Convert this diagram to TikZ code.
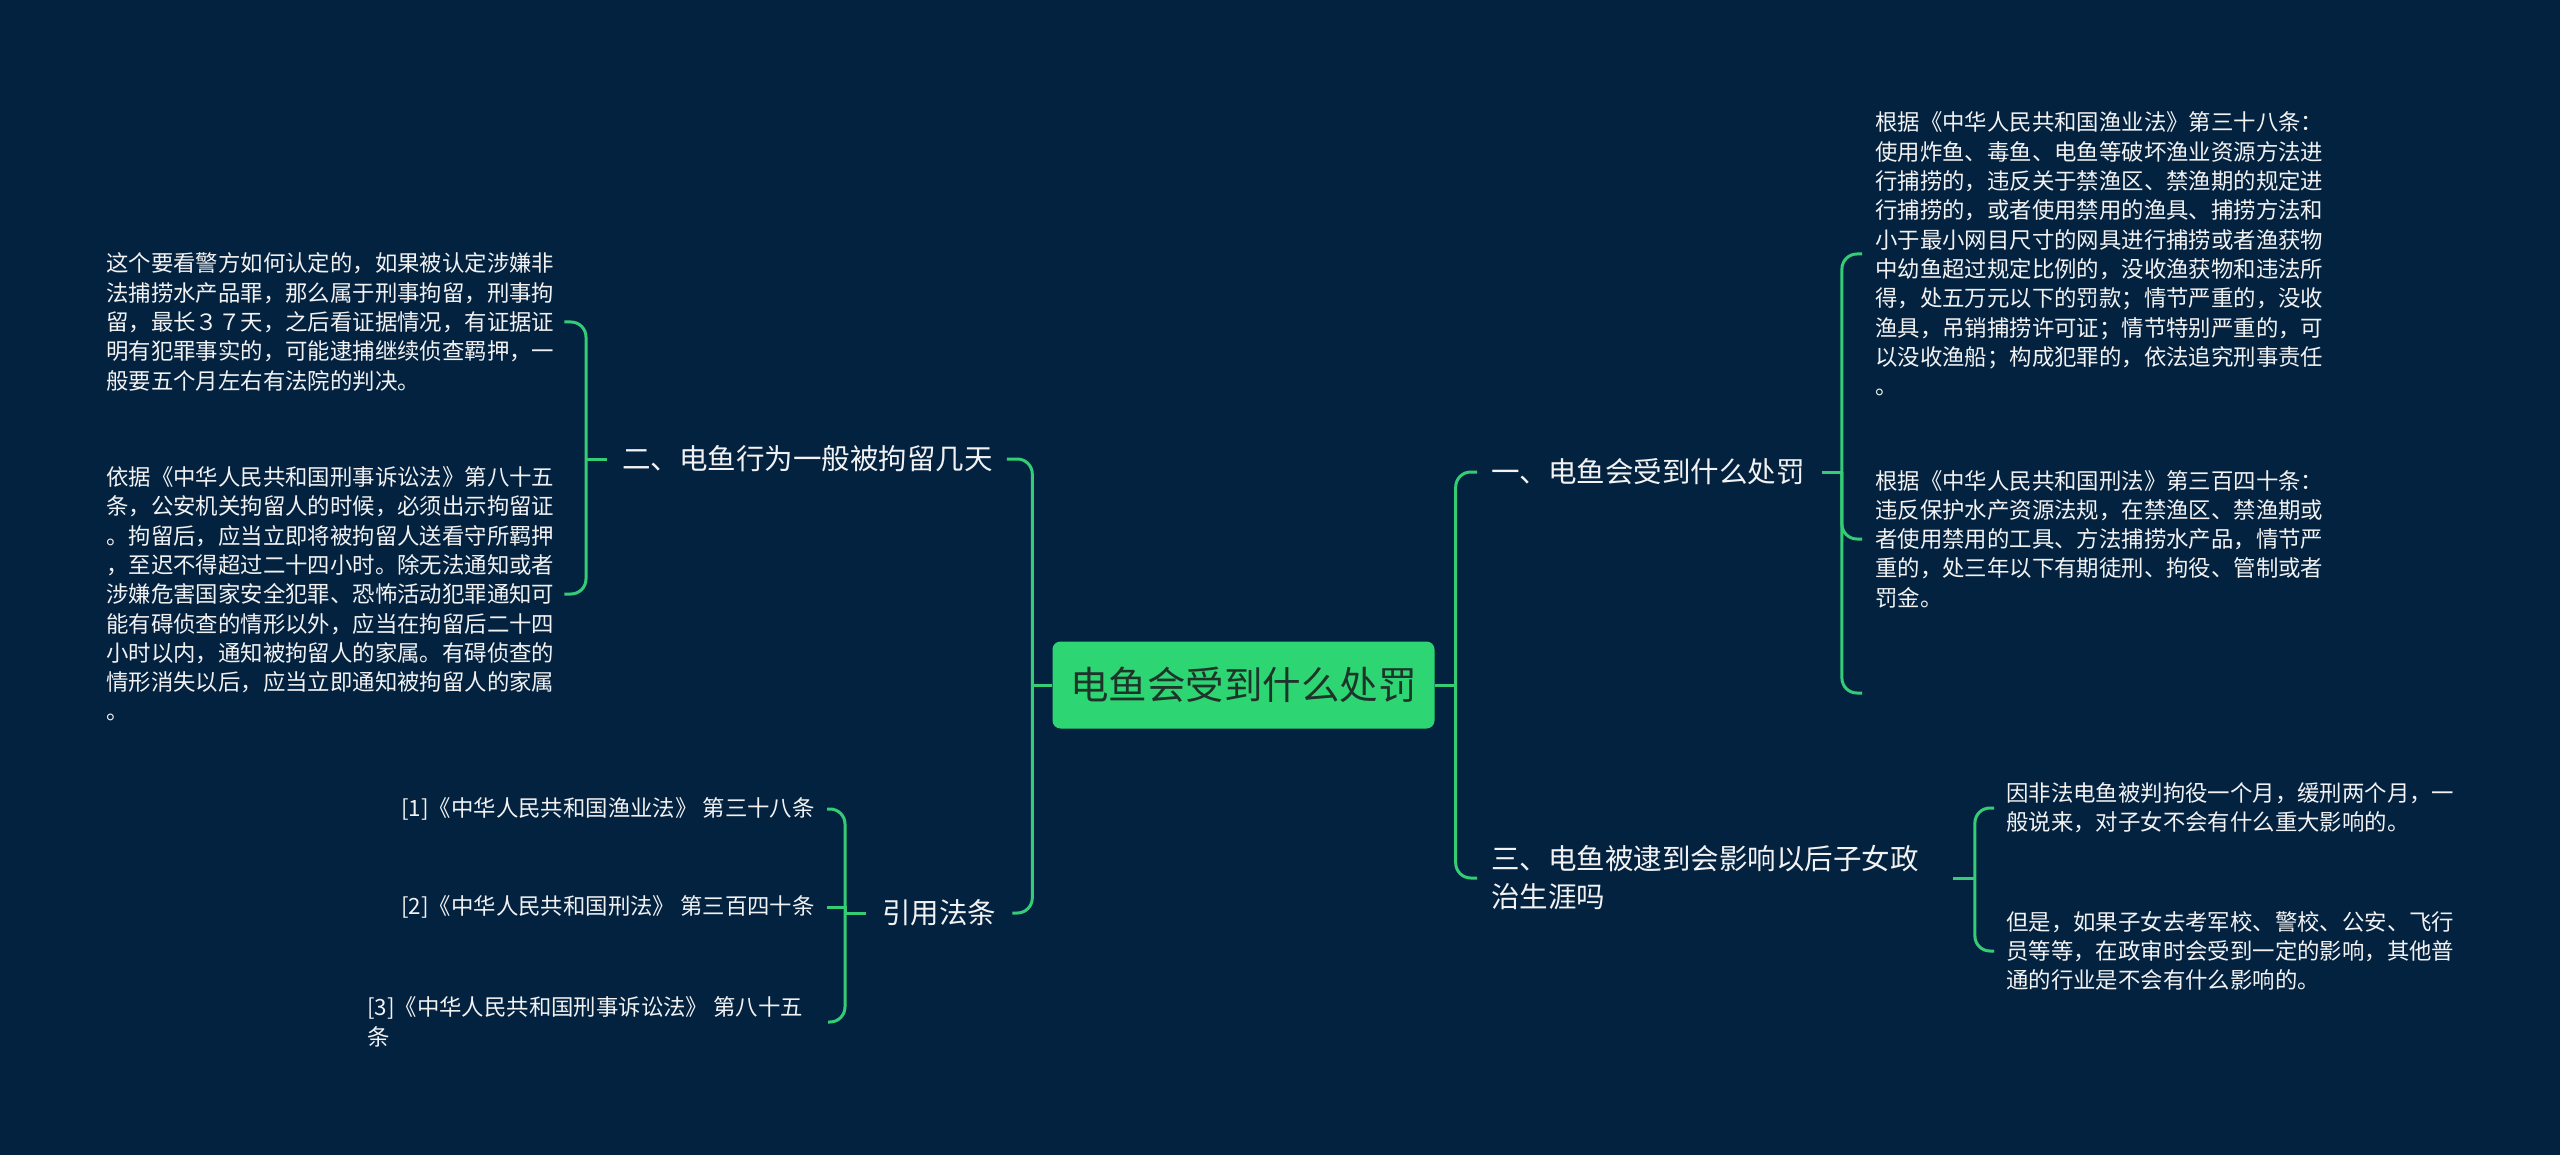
\documentclass[tikz,border=0pt]{standalone}
\usepackage{fontspec}
\setmainfont{Noto Sans CJK SC}
\definecolor{bgc}{RGB}{3,34,64}
\definecolor{lnc}{RGB}{52,205,118}
\definecolor{rootfill}{RGB}{46,214,115}
\definecolor{roottext}{RGB}{30,52,42}
\definecolor{txt}{RGB}{242,242,242}
\begin{document}
\begin{tikzpicture}[x=1pt,y=-1pt,
  conn/.style={draw=lnc,line width=3pt,rounded corners=15pt},
  small/.style={text=txt,inner sep=0pt,align=left,font=\fontsize{22.4}{29.3}\selectfont},
  mid/.style={text=txt,inner sep=0pt,align=left,font=\fontsize{28.5}{38}\selectfont},
  rootbox/.style={fill=rootfill,rounded corners=8pt,inner sep=0pt,minimum width=382pt,minimum height=87pt,text=roottext,font=\fontsize{38.5}{46}\selectfont}]
\useasboundingbox (0,0) rectangle (2560,1155);
\fill[bgc] (0,0) rectangle (2560,1155);
% nodes
\node[rootbox] (root) at (1243.5,685) {电鱼会受到什么处罚};
\node[mid,anchor=west] (b2) at (622,459) {二、电鱼行为一般被拘留几天};
\node[mid,anchor=west] (cite) at (882,913) {引用法条};
\node[mid,anchor=west] (b1) at (1491,472) {一、电鱼会受到什么处罚};
\node[mid,anchor=west] (b3) at (1491,878) {三、电鱼被逮到会影响以后子女政\\治生涯吗};
\node[small,anchor=west] (l1) at (106,322) {这个要看警方如何认定的，如果被认定涉嫌非\\法捕捞水产品罪，那么属于刑事拘留，刑事拘\\留，最长３７天，之后看证据情况，有证据证\\明有犯罪事实的，可能逮捕继续侦查羁押，一\\般要五个月左右有法院的判决。};
\node[small,anchor=west] (l2) at (106,594) {依据《中华人民共和国刑事诉讼法》第八十五\\条，公安机关拘留人的时候，必须出示拘留证\\。拘留后，应当立即将被拘留人送看守所羁押\\，至迟不得超过二十四小时。除无法通知或者\\涉嫌危害国家安全犯罪、恐怖活动犯罪通知可\\能有碍侦查的情形以外，应当在拘留后二十四\\小时以内，通知被拘留人的家属。有碍侦查的\\情形消失以后，应当立即通知被拘留人的家属\\。};
\node[small,anchor=west] (r1) at (1875,254) {根据《中华人民共和国渔业法》第三十八条：\\使用炸鱼、毒鱼、电鱼等破坏渔业资源方法进\\行捕捞的，违反关于禁渔区、禁渔期的规定进\\行捕捞的，或者使用禁用的渔具、捕捞方法和\\小于最小网目尺寸的网具进行捕捞或者渔获物\\中幼鱼超过规定比例的，没收渔获物和违法所\\得，处五万元以下的罚款；情节严重的，没收\\渔具，吊销捕捞许可证；情节特别严重的，可\\以没收渔船；构成犯罪的，依法追究刑事责任\\。};
\node[small,anchor=west] (r2) at (1875,539) {根据《中华人民共和国刑法》第三百四十条：\\违反保护水产资源法规，在禁渔区、禁渔期或\\者使用禁用的工具、方法捕捞水产品，情节严\\重的，处三年以下有期徒刑、拘役、管制或者\\罚金。};
\coordinate (e3) at (1862,693);
\node[small,anchor=west] (s1) at (2006,808) {因非法电鱼被判拘役一个月，缓刑两个月，一\\般说来，对子女不会有什么重大影响的。};
\node[small,anchor=west] (s2) at (2006,951) {但是，如果子女去考军校、警校、公安、飞行\\员等等，在政审时会受到一定的影响，其他普\\通的行业是不会有什么影响的。};
\node[small,anchor=east] (c1) at (815,809) {[1]《中华人民共和国渔业法》 第三十八条};
\node[small,anchor=east] (c2) at (815,907) {[2]《中华人民共和国刑法》 第三百四十条};
\node[small,anchor=west] (c3) at (367,1022) {[3]《中华人民共和国刑事诉讼法》 第八十五\\条};
% root connectors
\draw[conn] (root.west) -- ([xshift=-20]root.west);
\draw[conn] ([xshift=-20]root.west) |- ([xshift=14]b2.east);
\draw[conn] ([xshift=-20]root.west) |- ([xshift=16]cite.east);
\draw[conn] (root.east) -- ([xshift=21]root.east);
\draw[conn] ([xshift=21]root.east) |- ([xshift=-14]b1.west);
\draw[conn] ([xshift=21]root.east) |- ([xshift=-14]b3.west);
% branch 2
\draw[conn] ([xshift=-15]b2.west) -- ([xshift=-36]b2.west);
\draw[conn] ([xshift=-36]b2.west) |- ([xshift=10]l1.east);
\draw[conn] ([xshift=-36]b2.west) |- ([xshift=10]l2.east);
% citations
\draw[conn] ([xshift=-16]cite.west) -- ([xshift=-37]cite.west);
\draw[conn] ([xshift=-37]cite.west) |- ([xshift=12]c1.east);
\draw[conn,sharp corners] ([xshift=-37]cite.west) |- ([xshift=12]c2.east);
\draw[conn] ([xshift=-37]cite.west) |- ([xshift=25]c3.east);
% branch 1
\draw[conn] ([xshift=17]b1.east) -- ([xshift=37]b1.east);
\draw[conn] ([xshift=37]b1.east) |- ([xshift=-13]r1.west);
\draw[conn] ([xshift=37]b1.east) |- ([xshift=-13]r2.west);
\draw[conn] ([xshift=37]b1.east) |- (e3);
% branch 3
\draw[conn] ([xshift=34]b3.east) -- ([xshift=56]b3.east);
\draw[conn] ([xshift=56]b3.east) |- ([xshift=-12]s1.west);
\draw[conn] ([xshift=56]b3.east) |- ([xshift=-12]s2.west);
\end{tikzpicture}
\end{document}
